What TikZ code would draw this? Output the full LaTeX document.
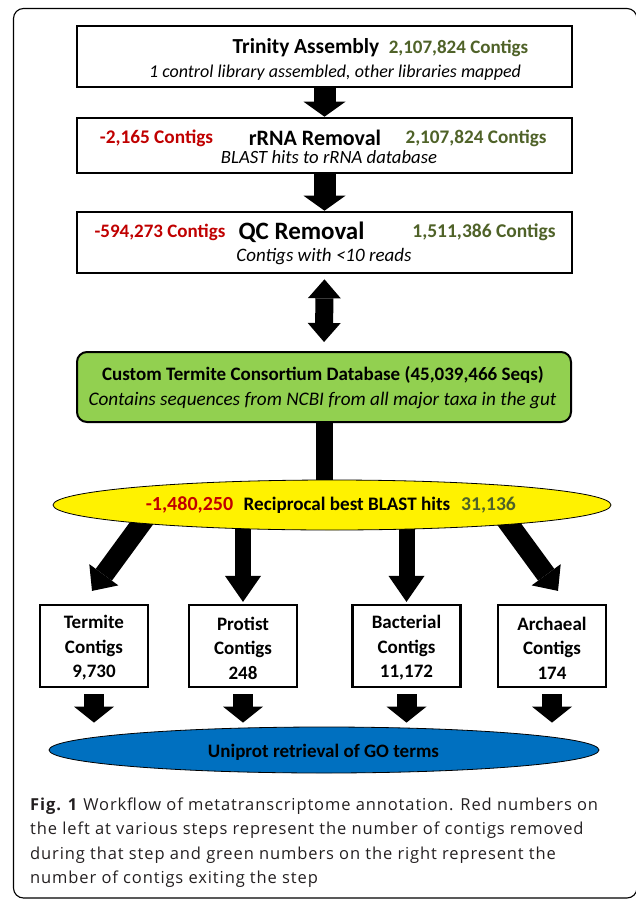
\documentclass[tikz,border=0pt]{standalone}
\usepackage{fontspec}
\setmainfont{Carlito}
\newfontfamily\capfont[LetterSpace=5.4]{Open Sans}
\usetikzlibrary{arrows.meta,calc,shapes.geometric}
\definecolor{cred}{HTML}{C00000}
\definecolor{cgreen}{HTML}{4F6228}
\definecolor{dbgreen}{HTML}{92D050}
\definecolor{ublue}{HTML}{0070C0}
\definecolor{capgray}{HTML}{231F20}
\pgfdeclarelayer{back}
\pgfsetlayers{back,main}
\tikzset{
  bigbox/.style={draw=black, line width=2.6pt, fill=white, minimum width=495, inner sep=0pt},
  smallbox/.style={draw=black, line width=2.2pt, fill=white, minimum width=108, minimum height=82, inner sep=0pt},
  tb/.style={font=\bfseries\fontsize{#1}{#1}\selectfont, inner sep=0pt},
  tb/.default=19.2,
  ti/.style={font=\itshape\fontsize{#1}{#1}\selectfont, inner sep=0pt},
  ti/.default=19,
  ts/.style={font=\bfseries\fontsize{19}{24.5}\selectfont, align=center, inner sep=0pt},
  captxt/.style={font=\capfont\fontsize{16.5}{24.5}\selectfont, text=capgray, anchor=base west, inner sep=0pt},
}
\begin{document}
\begin{tikzpicture}[x=1pt, y=-1pt]
\useasboundingbox (0,0) rectangle (635,900);
% outer frame
\draw[line width=1.1pt, rounded corners=10pt] (13.5,8.5) rectangle (637,898);

% main boxes
\node[bigbox, minimum height=61] (b1) at (324.5,56.5) {};
\node[bigbox, minimum height=55] (b2) at (324.5,145.5) {};
\node[bigbox, minimum height=61] (b3) at (324.5,242.5) {};
\node[draw=black, line width=2pt, fill=dbgreen, rounded corners=10pt, minimum width=494, minimum height=70] (db) at (324,387) {};
\node[ellipse, draw=black, line width=0.8pt, fill=yellow, minimum width=558, minimum height=50, inner sep=0pt] (yel) at (332,505) {};
\node[ellipse, draw=black, line width=0.8pt, fill=ublue, minimum width=550, minimum height=46, inner sep=0pt] (blue) at (324,750) {};

% small boxes
\node[smallbox] (term) at (94,646) {};
\node[smallbox] (prot) at (243,646) {};
\node[smallbox] (bact) at (406.5,646) {};
\node[smallbox] (arch) at (552,646) {};

% texts box 1
\node[tb=21.4] (t1a) at (306,48) {Trinity Assembly};
\node[tb=19.0, text=cgreen] (t1b) at (458.5,48) {2,107,824 Contigs};
\node[ti=18.0] (t1c) at (335,73) {1 control library assembled, other libraries mapped};
% box 2
\node[tb=19.3, text=cred] (t2a) at (156.5,138) {-2,165 Contigs};
\node[tb=22] (t2b) at (315,138) {rRNA Removal};
\node[tb=19.2, text=cgreen] (t2c) at (476,138) {2,107,824 Contigs};
\node[ti=18.7] (t2d) at (329,157.5) {BLAST hits to rRNA database};
% box 3
\node[tb=19.0, text=cred] (t3a) at (160,232) {-594,273 Contigs};
\node[tb=25] (t3b) at (301.5,232) {QC Removal};
\node[tb=19.5, text=cgreen] (t3c) at (484,232) {1,511,386 Contigs};
\node[ti=19] (t3d) at (324,257) {Contigs with <10 reads};
% database
\node[tb=19.0] (t4a) at (323,375) {Custom Termite Consortium Database (45,039,466 Seqs)};
\node[ti=19.2] (t4b) at (322.5,400) {Contains sequences from NCBI from all major taxa in the gut};
% yellow ellipse
\node[tb=20, text=cred] (t5a) at (189.5,505) {-1,480,250};
\node[tb=19.1] (t5b) at (347,505) {Reciprocal best BLAST hits};
\node[tb=19.6, text=cgreen] (t5c) at (488.5,505) {31,136};
% small boxes text
\node[ts] (t6a) at ($(term.center)+(0,2)$) {Termite\\Contigs\\9,730};
\node[ts] (t6b) at ($(prot.center)+(0,2)$) {Protist\\Contigs\\248};
\node[ts] (t6c) at ($(bact.center)+(0,2)$) {Bacterial\\Contigs\\11,172};
\node[ts] (t6d) at ($(arch.center)+(0,2)$) {Archaeal\\Contigs\\174};
% blue ellipse
\node[tb=19.0] (t7) at (323.5,752) {Uniprot retrieval of GO terms};

% arrows
\draw[line width=22pt, -{Triangle[width=42pt,length=15pt,line width=0pt]}] (b1.south) -- (b2.north);
\draw[line width=22pt, -{Triangle[width=42pt,length=15pt,line width=0pt]}] (b2.south) -- (b3.north);
\draw[line width=18pt, {Triangle[width=33pt,length=19pt,line width=0pt]}-{Triangle[width=33pt,length=19pt,line width=0pt]}, shorten <=5pt, shorten >=9pt] (b3.south) -- (db.north);
\begin{pgfonlayer}{back}
\draw[line width=17pt] (db.south) -- (db.south |- yel.center);
\draw[line width=16pt, -{Triangle[width=36pt,length=26pt,line width=0pt]}, shorten >=2pt] (prot.north |- yel.center) -- (prot.north);
\draw[line width=16pt, -{Triangle[width=36pt,length=26pt,line width=0pt]}, shorten >=2pt] (bact.north |- yel.center) -- (bact.north);
\draw[line width=20pt, -{Triangle[width=36pt,length=20pt,line width=0pt]}] ($(yel.center)+(-181.5,6)$) -- ($(term.north)+(-2,-13)$);
\draw[line width=20pt, -{Triangle[width=36pt,length=20pt,line width=0pt]}] ($(yel.center)+(167.5,6)$) -- ($(arch.north)+(6,-13)$);
\end{pgfonlayer}
\foreach \b in {term,prot,bact,arch}{
  \draw[line width=20pt, -{Triangle[width=40pt,length=16pt,line width=0pt]}, shorten <=6pt, shorten >=4pt] (\b.south) -- (\b.south |- blue.north);
}

% caption
\node[captxt] (c1) at (30,810) {\textbf{Fig. 1} Workflow of metatranscriptome annotation. Red numbers on};
\node[captxt] (c2) at (30,834.5) {the left at various steps represent the number of contigs removed};
\node[captxt] (c3) at (30,859) {during that step and green numbers on the right represent the};
\node[captxt] (c4) at (30,883.5) {number of contigs exiting the step};
\end{tikzpicture}
\end{document}
